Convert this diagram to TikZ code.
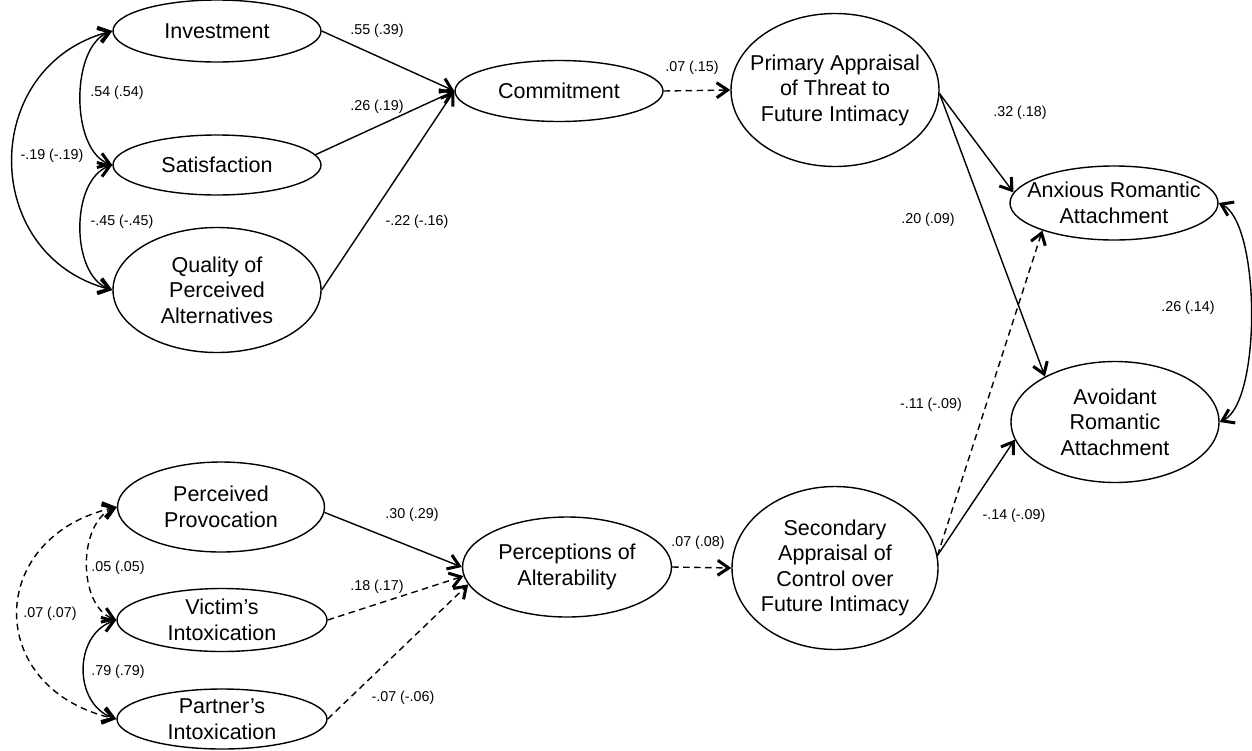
\documentclass[tikz,border=0pt]{standalone}
\usepackage{fontspec}
\setmainfont{Liberation Sans}
\usetikzlibrary{shapes.geometric,arrows.meta}
\newcommand{\nodefont}{\fontsize{21.5}{25.5}\selectfont}
\newcommand{\labfont}{\fontsize{14.3}{16}\selectfont}
\tikzset{
  ell/.style={draw, ellipse, line width=1.4pt, inner sep=0pt, fill=white},
  nt/.style={font=\nodefont, align=center, inner sep=0pt},
  lab/.style={font=\labfont, inner sep=0pt},
  tip/.tip={Straight Barb[length=11pt,width=15pt,line width=3pt]},
  arr/.style={line width=1.4pt, -tip},
  dbl/.style={line width=1.4pt, tip-tip},
  dsh/.style={dash pattern=on 6.5pt off 4.5pt}
}
\begin{document}
\begin{tikzpicture}[x=1pt,y=-1pt]
\useasboundingbox (0,0) rectangle (1252,750);
% nodes
\node[ell, minimum width=208pt, minimum height=62pt, label={[nt]center:Investment}] (inv) at (217,31) {};
\node[ell, minimum width=208pt, minimum height=60pt, label={[nt]center:Satisfaction}] (sat) at (217,165) {};
\node[ell, minimum width=208pt, minimum height=125pt, label={[nt]center:{Quality of\\Perceived\\Alternatives}}] (qual) at (217,290) {};
\node[ell, minimum width=208pt, minimum height=61pt, label={[nt]center:Commitment}] (com) at (559,91) {};
\node[ell, minimum width=208pt, minimum height=153pt, label={[nt]center:{Primary Appraisal\\of Threat to\\Future Intimacy}}] (pri) at (835,90) {};
\node[ell, minimum width=208pt, minimum height=74pt, label={[nt]center:{Anxious Romantic\\Attachment}}] (anx) at (1114,203) {};
\node[ell, minimum width=208pt, minimum height=121pt, label={[nt]center:{Avoidant\\Romantic\\Attachment}}] (avo) at (1115,422) {};
\node[ell, minimum width=207pt, minimum height=90pt, label={[nt]center:{Perceived\\Provocation}}] (prov) at (221,507) {};
\node[ell, minimum width=210pt, minimum height=63pt, label={[nt]center:{Victim’s\\Intoxication}}] (vic) at (222,620) {};
\node[ell, minimum width=210pt, minimum height=60pt, label={[nt]center:{Partner’s\\Intoxication}}] (part) at (222,719) {};
\node[ell, minimum width=209pt, minimum height=100pt, label={[nt]center:{Perceptions of\\Alterability}}] (perc) at (567,567) {};
\node[ell, minimum width=206pt, minimum height=163pt, label={[nt]center:{Secondary\\Appraisal of\\Control over\\Future Intimacy}}] (sec) at (835,568) {};
% directed paths, top
\draw[arr] (inv.east) -- (com.west);
\draw[arr] (sat.6) -- (com.west);
\draw[arr] (qual.east) -- (com.west);
\draw[arr,dsh] (com.east) -- (pri.west);
\draw[arr] (pri.-2) -- (anx.174);
\draw[arr] (pri.-2) -- (avo.147);
\draw[arr,dsh] (sec.7) -- (anx.201);
\draw[arr] (sec.7) -- (avo.190);
% directed paths, bottom
\draw[arr] (prov.-3) -- (perc.west);
\draw[arr,dsh] (vic.east) -- (perc.185);
\draw[arr,dsh] (part.east) -- (perc.190);
\draw[arr,dsh] (perc.east) -- (sec.west);
% correlations
\draw[dbl] (anx.east) .. controls +(42,20) and +(42,-20) .. (avo.east);
\draw[dbl] (inv.west) .. controls +(-42,15) and +(-42,-15) .. (sat.west);
\draw[dbl] (sat.west) .. controls +(-42,15) and +(-42,-15) .. (qual.west);
\draw[dbl] (inv.west) .. controls +(-133,35) and +(-133,-35) .. (qual.west);
\draw[dbl,dsh] (prov.west) .. controls +(-39,15) and +(-39,-15) .. (vic.west);
\draw[dbl] (vic.west) .. controls +(-43,15) and +(-43,-15) .. (part.west);
\draw[dbl,dsh] (prov.west) .. controls +(-132,30) and +(-132,-30) .. (part.west);
% coefficient labels
\node[lab] (l1) at (377,31) {.55 (.39)};
\node[lab] (l2) at (377,107) {.26 (.19)};
\node[lab] (l3) at (417,222) {-.22 (-.16)};
\node[lab] (l4) at (117,93) {.54 (.54)};
\node[lab] (l5) at (52,156) {-.19 (-.19)};
\node[lab] (l6) at (122,222) {-.45 (-.45)};
\node[lab] (l7) at (692,68) {.07 (.15)};
\node[lab] (l8) at (1020,113) {.32 (.18)};
\node[lab] (l9) at (928,220) {.20 (.09)};
\node[lab] (l10) at (931,405) {-.11 (-.09)};
\node[lab] (l11) at (1014,516) {-.14 (-.09)};
\node[lab] (l12) at (1188,308) {.26 (.14)};
\node[lab] (l13) at (412,515) {.30 (.29)};
\node[lab] (l14) at (377,587) {.18 (.17)};
\node[lab] (l15) at (403,698) {-.07 (-.06)};
\node[lab] (l16) at (698,543) {.07 (.08)};
\node[lab] (l17) at (118,568) {.05 (.05)};
\node[lab] (l18) at (118,672) {.79 (.79)};
\node[lab] (l19) at (50,614) {.07 (.07)};
\end{tikzpicture}
\end{document}
